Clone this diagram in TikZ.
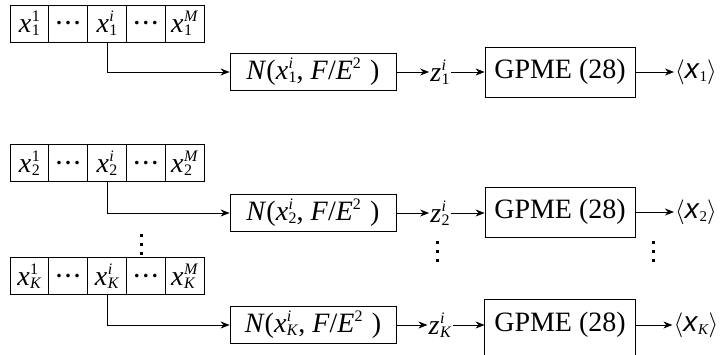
\documentclass[tikz,border=0pt]{standalone}
\usepackage{amsmath}
\usepackage{fontspec}
\setmainfont{Liberation Serif}
\setsansfont{Liberation Sans}
\usetikzlibrary{arrows.meta}

% superscript #1 stacked above subscript #2
\newlength\scrwd
\newcommand\supsub[2]{{\fontsize{16}{16}\selectfont
  \setbox0=\hbox{#1}\setbox2=\hbox{#2}%
  \ifdim\wd0>\wd2 \scrwd=\wd0 \else \scrwd=\wd2 \fi
  \kern0.5pt\makebox[\scrwd][l]{\rlap{\raisebox{11pt}{\copy0}}\raisebox{-3pt}{\copy2}}}}
% x with superscript #1 and subscript #2
\newcommand\vecx[2]{\textit{x}\supsub{#1}{#2}}
% Gaussian block label
\newcommand\gauss[1]{\textit{N}(\vecx{\textit{i}}{#1}, \textit{F}/\textit{E}\raisebox{11pt}{\fontsize{16}{16}\selectfont 2}\,\,)}
% expected value label
\newcommand\meanx[1]{$\langle$\textsf{\textit{x}}\raisebox{-3pt}{\fontsize{15}{15}\selectfont #1}$\rangle$}
% heavy dots
\newcommand\heavydots{{\fontsize{22}{22}\selectfont\bfseries .\kern3.5pt.\kern3.5pt.}}

\tikzset{
  every node/.style={font=\fontsize{28}{32}\selectfont},
  cell/.style={draw, line width=0.8pt, minimum width=38.8pt, minimum height=37pt, inner sep=0pt},
  nbox/.style={draw, line width=0.8pt, minimum width=166pt, minimum height=37pt, inner sep=0pt},
  gbox/.style={draw, line width=0.8pt, minimum width=150pt, minimum height=50pt, inner sep=0pt},
  lbl/.style={inner sep=1pt},
  flow/.style={line width=0.8pt, -{Stealth[length=9pt,width=7pt]}},
  vdot/.style={fill=black},
}

\begin{document}
\begin{tikzpicture}[x=1pt, y=-1pt]
\useasboundingbox (0,0) rectangle (722,354);
\clip (0,0) rectangle (722,354);

% ---- chain 1
\node[cell] (a1) at (29.4,23.5) {\vecx{1}{1}};
\node[cell] (b1) at (68.2,23.5) {\heavydots};
\node[cell] (c1) at (107,23.5) {\vecx{\textit{i}}{1}};
\node[cell] (d1) at (145.8,23.5) {\heavydots};
\node[cell] (e1) at (184.6,23.5) {\vecx{\textit{M}}{1}};
\node[nbox] (n1) at (313,72) {\gauss{1}};
\node[lbl] (z1) at (440,72) {\textit{z}\supsub{\textit{i}}{1}};
\node[gbox] (g1) at (560,72) {GPME (28)};
\node[lbl] (o1) at (696,72) {\meanx{1}};
\draw[flow] (c1.south) |- (n1.west);
\draw[flow] (n1) -- (z1);
\draw[flow] (z1) -- (g1);
\draw[flow] (g1) -- (o1);

% ---- chain 2
\node[cell] (a2) at (29.4,163) {\vecx{1}{2}};
\node[cell] (b2) at (68.2,163) {\heavydots};
\node[cell] (c2) at (107,163) {\vecx{\textit{i}}{2}};
\node[cell] (d2) at (145.8,163) {\heavydots};
\node[cell] (e2) at (184.6,163) {\vecx{\textit{M}}{2}};
\node[nbox] (n2) at (313,213) {\gauss{2}};
\node[lbl] (z2) at (440,213) {\textit{z}\supsub{\textit{i}}{2}};
\node[gbox] (g2) at (560,212) {GPME (28)};
\node[lbl] (o2) at (696,212) {\meanx{2}};
\draw[flow] (c2.south) |- (n2.west);
\draw[flow] (n2) -- (z2);
\draw[flow] (z2) -- (g2.west |- z2);
\draw[flow] (g2) -- (o2);

% ---- vertical ellipses
\foreach \y in {235,244,253} \fill[vdot] (139.5,\y-1.5) rectangle ++(3,3);
\foreach \y in {242,251,260} {
  \fill[vdot] (435.5,\y-1.5) rectangle ++(3,3);
  \fill[vdot] (651.5,\y-1.5) rectangle ++(3,3);
}

% ---- chain K
\node[cell] (aK) at (29.4,276) {\vecx{1}{\textit{K}}};
\node[cell] (bK) at (68.2,276) {\heavydots};
\node[cell] (cK) at (107,276) {\vecx{\textit{i}}{\textit{K}}};
\node[cell] (dK) at (145.8,276) {\heavydots};
\node[cell] (eK) at (184.6,276) {\vecx{\textit{M}}{\textit{K}}};
\node[nbox] (nK) at (313,325) {\gauss{\textit{K}}};
\node[lbl] (zK) at (440,325) {\textit{z}\supsub{\textit{i}}{\textit{K}}};
\node[gbox, draw=none] (gK) at (560,325) {GPME (28)};
\draw[line width=0.8pt] (gK.north west) rectangle ([yshift=-12pt]gK.south east);
\node[lbl] (oK) at (696,325) {\meanx{\textit{K}}};
\draw[flow] (cK.south) |- (nK.west);
\draw[flow] (nK) -- (zK);
\draw[flow] (zK) -- (gK);
\draw[flow] (gK) -- (oK);
\end{tikzpicture}
\end{document}
